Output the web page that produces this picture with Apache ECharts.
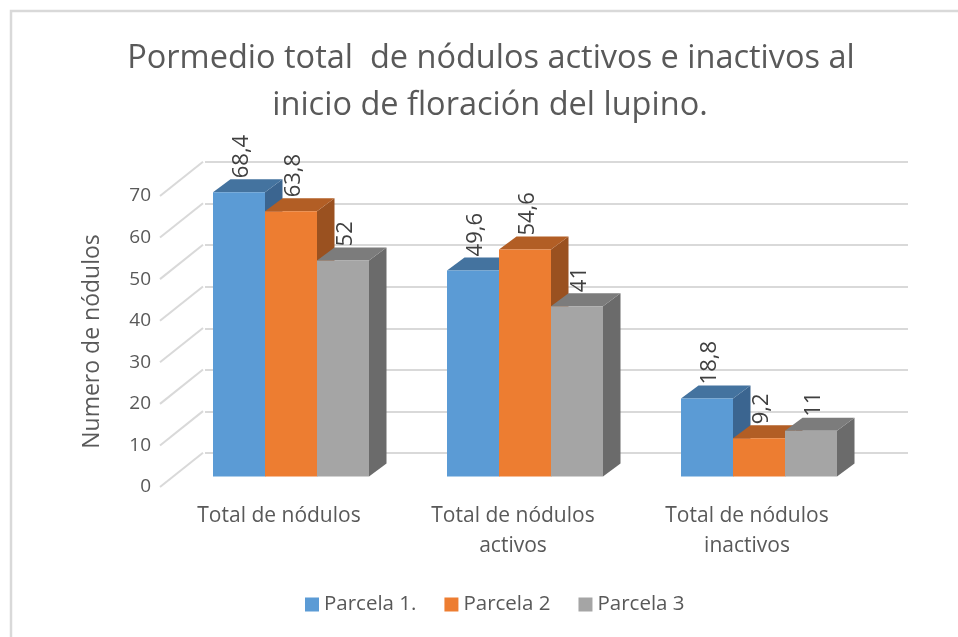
<!DOCTYPE html>
<html><head><meta charset="utf-8">
<style>html,body{margin:0;padding:0;background:#fff}#c{width:958px;height:637px}</style>
<script src="https://cdn.jsdelivr.net/npm/echarts@6/dist/echarts.min.js"></script>
</head><body><div id="c"></div>
<script>
const titleLines = ['Pormedio total  de nódulos activos e inactivos al', 'inicio de floración del lupino.'];
const categories = ['Total de nódulos', 'Total de nódulos\nactivos', 'Total de nódulos\ninactivos'];
const parcela1 = [68.4, 49.6, 18.8];
const parcela2 = [63.8, 54.6, 9.2];
const parcela3 = [52, 41, 11];
const seriesNames = ['Parcela 1.', 'Parcela 2', 'Parcela 3'];
const yTicks = [0, 10, 20, 30, 40, 50, 60, 70];
const yAxisTitle = 'Numero de nódulos';

const FONT = 'Open Sans';
const TXT = '#595959';
const faces = [
  {front:'#5B9BD5', top:'#44739F', side:'#3B6590'},
  {front:'#ED7D31', top:'#B25E25', side:'#9A5120'},
  {front:'#A5A5A5', top:'#7C7C7C', side:'#6B6B6B'}
];
const BAR_DX = 17.5, BAR_DY = 13, WALL_DX = 43, WALL_DY = 34.3;

function barSeries(idx, values) {
  const c = faces[idx];
  return {
    name: seriesNames[idx], type: 'custom', xAxisIndex: 1, yAxisIndex: 1, z: 5 + idx,
    itemStyle: {color: c.front},
    data: values.map((v, i) => [i, v]),
    encode: {x: 0, y: 1},
    renderItem(params, api) {
      const top = api.coord([api.value(0), api.value(1)]);
      const base = api.coord([api.value(0), 0]);
      const w = api.size([1, 0])[0] / 4.5;
      const x = top[0] + (idx - 1.5) * w, y = top[1], b = base[1];
      const raw = api.value(1);
      return {type: 'group', children: [
        {type: 'polygon', shape: {points: [[x + w, y], [x + w + BAR_DX, y - BAR_DY], [x + w + BAR_DX, b - BAR_DY], [x + w, b]]}, style: {fill: c.side}},
        {type: 'polygon', shape: {points: [[x, y], [x + BAR_DX, y - BAR_DY], [x + w + BAR_DX, y - BAR_DY], [x + w, y]]}, style: {fill: c.top}},
        {type: 'rect', shape: {x: x, y: y, width: w, height: b - y}, style: {fill: c.front}},
        {type: 'text', x: x + w / 2 + 3, y: y - 14, rotation: Math.PI / 2,
          style: {text: String(raw).replace('.', ','), font: '22px "' + FONT + '"', fill: '#404040', align: 'left', verticalAlign: 'middle'}}
      ]};
    }
  };
}

const option = {
  animation: false,
  backgroundColor: '#fff',
  textStyle: {fontFamily: FONT},
  graphic: [
    {type: 'rect', shape: {x: 11, y: 11, width: 960, height: 700}, style: {fill: 'none', stroke: '#D9D9D9', lineWidth: 2.5}, silent: true},
    {type: 'text', x: 491, y: 59, style: {text: titleLines[0], font: '32.5px "' + FONT + '"', fill: TXT, align: 'center', verticalAlign: 'middle'}},
    {type: 'text', x: 490, y: 106, style: {text: titleLines[1], font: '32.5px "' + FONT + '"', fill: TXT, align: 'center', verticalAlign: 'middle'}}
  ],
  legend: {
    left: 300, top: 589, icon: 'rect', itemWidth: 14, itemHeight: 14, itemGap: 28,
    data: seriesNames, textStyle: {color: TXT, fontSize: 20.5, fontFamily: FONT}
  },
  grid: [
    {left: 162, top: 196, width: 702, height: 291},
    {left: 174, top: 185.6, width: 702, height: 291},
    {left: 205, top: 162, width: 703, height: 291}
  ],
  xAxis: [
    {type: 'category', gridIndex: 0, data: categories, axisLine: {show: false}, axisTick: {show: false},
     axisLabel: {color: TXT, fontSize: 21, lineHeight: 30, margin: 14, interval: 0, fontFamily: FONT}},
    {type: 'category', gridIndex: 1, data: categories, show: false},
    {type: 'category', gridIndex: 2, data: categories, show: false}
  ],
  yAxis: [
    {type: 'value', gridIndex: 0, min: 0, max: 70, interval: 10, axisLine: {show: false}, axisTick: {show: false}, splitLine: {show: false},
     axisLabel: {color: TXT, fontSize: 19, margin: 11, fontFamily: FONT},
     name: yAxisTitle, nameLocation: 'middle', nameGap: 58, nameRotate: 90,
     nameTextStyle: {color: TXT, fontSize: 23, fontFamily: FONT}},
    {type: 'value', gridIndex: 1, min: 0, max: 70, interval: 10, show: false, splitLine: {show: false}},
    {type: 'value', gridIndex: 2, min: 0, max: 70, interval: 10, axisLabel: {show: false}, axisLine: {show: false}, axisTick: {show: false},
     splitLine: {show: true, lineStyle: {color: '#D9D9D9', width: 2}}}
  ],
  series: [
    {
      type: 'custom', name: 'pared', xAxisIndex: 0, yAxisIndex: 0, z: 1, silent: true,
      data: yTicks.map(v => [0, v]),
      renderItem(params, api) {
        const p = api.coord([0, api.value(1)]);
        const x0 = params.coordSys.x - 2;
        return {type: 'line', shape: {x1: x0, y1: p[1], x2: x0 + WALL_DX, y2: p[1] - WALL_DY}, style: {stroke: '#D9D9D9', lineWidth: 2}};
      }
    },
    barSeries(0, parcela1),
    barSeries(1, parcela2),
    barSeries(2, parcela3)
  ]
};
const chart = echarts.init(document.getElementById('c'), null, {renderer: 'canvas'});
chart.setOption(option);
</script></body></html>
